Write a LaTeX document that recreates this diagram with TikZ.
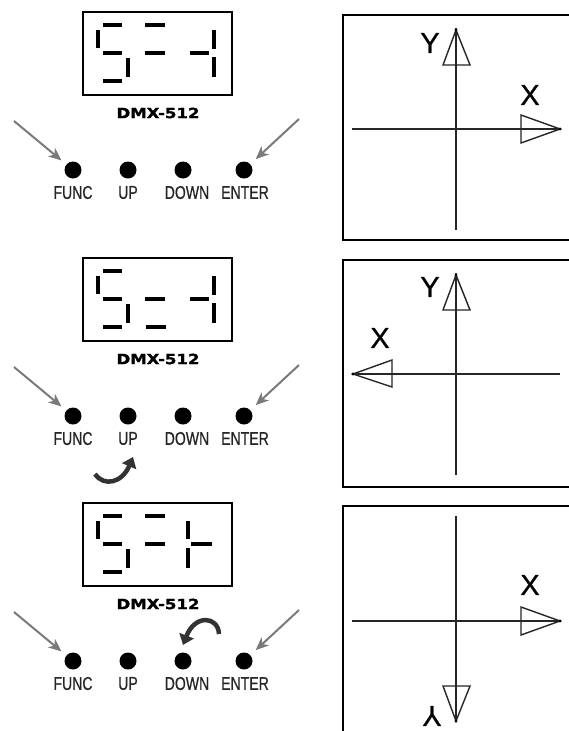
\documentclass[tikz,border=0pt]{standalone}
\usepackage{fontspec}
\setmainfont{Liberation Sans}
\newfontfamily\narrowfont[FakeStretch=0.76,FakeBold=0.6]{Liberation Sans}
\newfontfamily\dmxfont[FakeStretch=1.18,FakeBold=1.5]{DejaVu Sans}
\newfontfamily\axfont[FakeBold=0.8]{Liberation Sans}
\usetikzlibrary{arrows.meta}
\tikzset{
  seg/.style={line width=4.6pt, black},
  dispbox/.style={line width=2.7pt, black},
  panelbox/.style={line width=2.8pt, black},
  btn/.style={circle, fill=black, minimum size=17pt, inner sep=0pt},
  btnlabel/.style={font=\narrowfont\fontsize{18.5}{18.5}\selectfont, inner sep=0pt, text=black!85},
  dmx/.style={font=\dmxfont\bfseries\fontsize{14}{14}\selectfont, inner sep=0pt},
  grayarrow/.style={draw=black!52, line width=2pt, -{Stealth[length=13pt,width=11pt,inset=4pt]}},
  curvarrow/.style={draw=black!80, line width=4.5pt, -{Triangle[length=10pt,width=15pt]}},
  axisline/.style={line width=1.5pt, black!85},
  headtri/.style={line width=1.4pt, black!85, line join=miter},
  axlabel/.style={font=\axfont\fontsize{29}{29}\selectfont, inner sep=0pt},
  tipdot/.style={fill=black, draw=none}
}
\newcommand\commonparts[1]{%
  \draw[dispbox] (83,12) rectangle (232,95);
  % digit 5
  \draw[seg] (103,25) -- (122,25);
  \draw[seg] (98,30) -- (98,48);
  \draw[seg] (103,53) -- (122,53);
  \draw[seg] (128,58) -- (128,77);
  \draw[seg] (103,81) -- (122,81);
  \node[dmx] (dmx#1) at (158,113) {DMX-512};
  \node[btn] (f#1) at (73,170) {};
  \node[btn] (u#1) at (128,170) {};
  \node[btn] (d#1) at (183,170) {};
  \node[btn] (e#1) at (244,170) {};
  \node[btnlabel] (lf#1) at (73,192.5) {FUNC};
  \node[btnlabel] (lu#1) at (128,192.5) {UP};
  \node[btnlabel] (ld#1) at (187,192.5) {DOWN};
  \node[btnlabel] (le#1) at (245,192.5) {ENTER};
  \coordinate (sl#1) at (14,121);
  \coordinate (sr#1) at (299,119);
  \draw[grayarrow, shorten >=15pt] (sl#1) -- (f#1.center);
  \draw[grayarrow, shorten >=16pt] (sr#1) -- (e#1.center);
}
\begin{document}
\begin{tikzpicture}[x=1pt,y=-1pt]
\useasboundingbox (0,0) rectangle (568,731);
\fill[white] (0,0) rectangle (568,731);
% ---------- group 1 ----------
\begin{scope}
  \commonparts{a}
  \draw[seg] (145,25) -- (165,25);
  \draw[seg] (145,53) -- (165,53);
  \draw[seg] (190,53) -- (209,53);
  \draw[seg] (214,30) -- (214,49);
  \draw[seg] (214,57) -- (214,77);
\end{scope}
% ---------- group 2 ----------
\begin{scope}[shift={(0,246)}]
  \commonparts{b}
  \draw[seg] (145,53) -- (165,53);
  \draw[seg] (146,81) -- (166,81);
  \draw[seg] (190,53) -- (209,53);
  \draw[seg] (214,30) -- (214,49);
  \draw[seg] (214,57) -- (214,77);
  \coordinate (cb) at (95,228);
  \draw[curvarrow] (cb) .. controls (104,241) and (122,237) .. (133,211);
\end{scope}
% ---------- group 3 ----------
\begin{scope}[shift={(0,491)}]
  \commonparts{c}
  \draw[seg] (145,25) -- (165,25);
  \draw[seg] (145,53) -- (165,53);
  \draw[seg] (191,53) -- (212,53);
  \draw[seg] (188,30) -- (188,48);
  \draw[seg] (188,57) -- (188,77);
  \coordinate (cc) at (219,143);
  \draw[curvarrow] (cc) .. controls (218,125) and (195,123) .. (183,154);
\end{scope}
% ---------- panel 1 ----------
\draw[panelbox] (343,15) rectangle (580,240);
\draw[axisline] (352,129) -- (560,129);
\draw[axisline] (456,28) -- (456,230);
\draw[headtri] (443,65) -- (456,30) -- (470,65) -- cycle;
\draw[headtri] (521,115) -- (560,129) -- (521,143) -- cycle;
\fill[tipdot] (456,30) circle (1.7);
\fill[tipdot] (560,129) circle (1.7);
\node[axlabel] (y1) at (430,43) {Y};
\node[axlabel] (x1) at (530,95) {X};
% ---------- panel 2 ----------
\draw[panelbox] (343,260) rectangle (580,487);
\draw[axisline] (352,374) -- (560,374);
\draw[axisline] (456,273) -- (456,475);
\draw[headtri] (443,310) -- (456,275) -- (470,310) -- cycle;
\draw[headtri] (392,360) -- (353,374) -- (392,387) -- cycle;
\fill[tipdot] (456,275) circle (1.7);
\fill[tipdot] (353,374) circle (1.7);
\node[axlabel] (y2) at (430,287) {Y};
\node[axlabel] (x2) at (380,338) {X};
% ---------- panel 3 ----------
\draw[panelbox] (343,506) rectangle (580,745);
\draw[axisline] (352,621) -- (560,621);
\draw[axisline] (456,516) -- (456,722);
\draw[headtri] (443,686) -- (456,721) -- (470,686) -- cycle;
\draw[headtri] (521,607) -- (560,621) -- (521,635) -- cycle;
\fill[tipdot] (456,721) circle (1.7);
\fill[tipdot] (560,621) circle (1.7);
\node[axlabel, rotate=180] (y3) at (432,716) {Y};
\node[axlabel] (x3) at (530,585) {X};
\end{tikzpicture}
\end{document}
